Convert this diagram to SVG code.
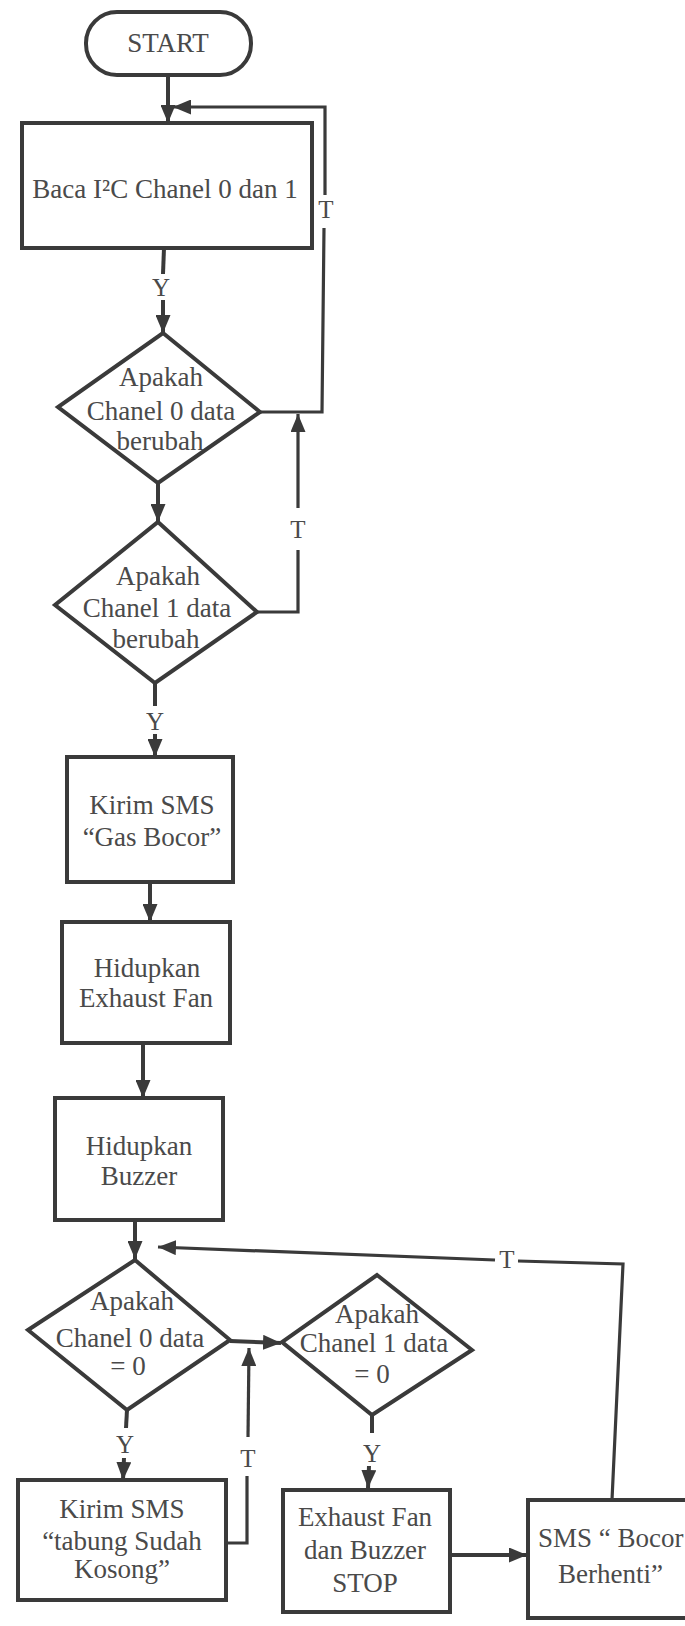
<svg xmlns="http://www.w3.org/2000/svg" width="685" height="1626" viewBox="0 0 685 1626">
<style>
.shape{fill:#fff;stroke:#3a3a3a;stroke-width:4;stroke-linejoin:miter}
.conn{fill:none;stroke:#3a3a3a;stroke-width:4}
.thin{fill:none;stroke:#3a3a3a;stroke-width:3.2}
text{font-family:"Liberation Serif","Times New Roman",serif;font-size:27px;fill:#4a4a4a;text-anchor:middle}
.lbl{font-size:25px}
</style>
<defs>
<marker id="ah" viewBox="0 0 18 15" refX="18" refY="7.5" markerWidth="18" markerHeight="15" orient="auto" markerUnits="userSpaceOnUse">
<path d="M0,0 L18,7.5 L0,15 z" fill="#3a3a3a"/>
</marker>
</defs>
<rect width="685" height="1626" fill="#fff"/>

<g id="connectors">
<line class="conn" x1="168" y1="75" x2="168" y2="123" marker-end="url(#ah)"/>
<polyline class="thin" points="260,412 322,412 324,228"/>
<polyline class="thin" points="325,195 325,107 173,107" marker-end="url(#ah)"/>
<text class="lbl" x="326" y="218">T</text>
<line class="conn" x1="164" y1="248" x2="163" y2="274"/>
<text class="lbl" x="161" y="296">Y</text>
<line class="conn" x1="163" y1="300" x2="163" y2="333" marker-end="url(#ah)"/>
<line class="conn" x1="158" y1="483" x2="158" y2="522" marker-end="url(#ah)"/>
<polyline class="thin" points="257,612 298,612 298,550"/>
<line class="thin" x1="298" y1="508" x2="298" y2="414" marker-end="url(#ah)"/>
<text class="lbl" x="298" y="538">T</text>
<line class="conn" x1="155" y1="683" x2="155" y2="706"/>
<text class="lbl" x="155" y="730">Y</text>
<line class="conn" x1="155" y1="734" x2="155" y2="757" marker-end="url(#ah)"/>
<line class="conn" x1="150" y1="882" x2="150" y2="922" marker-end="url(#ah)"/>
<line class="conn" x1="143" y1="1043" x2="143" y2="1098" marker-end="url(#ah)"/>
<line class="conn" x1="135" y1="1220" x2="135" y2="1259" marker-end="url(#ah)"/>
<polyline class="thin" points="612,1500 623,1264 518,1261"/>
<line class="thin" x1="495" y1="1260" x2="158" y2="1247" marker-end="url(#ah)"/>
<text class="lbl" x="507" y="1268">T</text>
<line class="conn" x1="230" y1="1341" x2="281" y2="1343" marker-end="url(#ah)"/>
<line class="conn" x1="127" y1="1410" x2="126" y2="1428"/>
<text class="lbl" x="125" y="1453">Y</text>
<line class="conn" x1="124" y1="1458" x2="123" y2="1480" marker-end="url(#ah)"/>
<polyline class="thin" points="226,1543 247,1543 247,1476"/>
<line class="thin" x1="248" y1="1437" x2="249" y2="1348" marker-end="url(#ah)"/>
<text class="lbl" x="248" y="1467">T</text>
<line class="conn" x1="372" y1="1415" x2="372" y2="1433"/>
<text class="lbl" x="372" y="1462">Y</text>
<line class="conn" x1="369" y1="1466" x2="368" y2="1488" marker-end="url(#ah)"/>
<line class="conn" x1="450" y1="1555" x2="527" y2="1555" marker-end="url(#ah)"/>
</g>

<g id="start">
<rect class="shape" x="86" y="12" width="165" height="63" rx="31" ry="31"/>
<text x="168" y="52">START</text>
</g>

<g id="baca">
<rect class="shape" x="22" y="123" width="290" height="125"/>
<text x="165" y="198">Baca I²C Chanel 0 dan 1</text>
</g>

<g id="cek0">
<polygon class="shape" points="163,333 260,412 158,483 58,407"/>
<text x="161" y="386">Apakah</text>
<text x="161" y="420">Chanel 0 data</text>
<text x="160" y="450">berubah</text>
</g>

<g id="cek1">
<polygon class="shape" points="158,522 257,612 155,683 55,605"/>
<text x="158" y="585">Apakah</text>
<text x="157" y="617">Chanel 1 data</text>
<text x="156" y="648">berubah</text>
</g>

<g id="sms-gas">
<rect class="shape" x="67" y="757" width="166" height="125"/>
<text x="152" y="814">Kirim SMS</text>
<text x="152" y="846">“Gas Bocor”</text>
</g>

<g id="fan-on">
<rect class="shape" x="62" y="922" width="168" height="121"/>
<text x="147" y="977">Hidupkan</text>
<text x="146" y="1007">Exhaust Fan</text>
</g>

<g id="buzzer-on">
<rect class="shape" x="55" y="1098" width="168" height="122"/>
<text x="139" y="1155">Hidupkan</text>
<text x="139" y="1185">Buzzer</text>
</g>

<g id="cek0-nol">
<polygon class="shape" points="135,1260 230,1340 127,1410 28,1330"/>
<text x="132" y="1310">Apakah</text>
<text x="130" y="1347">Chanel 0 data</text>
<text x="128" y="1375">= 0</text>
</g>

<g id="cek1-nol">
<polygon class="shape" points="377,1275 472,1350 372,1415 282,1342"/>
<text x="377" y="1323">Apakah</text>
<text x="374" y="1352">Chanel 1 data</text>
<text x="372" y="1383">= 0</text>
</g>

<g id="sms-kosong">
<rect class="shape" x="18" y="1480" width="208" height="120"/>
<text x="122" y="1518">Kirim SMS</text>
<text x="122" y="1550">“tabung Sudah</text>
<text x="122" y="1578">Kosong”</text>
</g>

<g id="stop">
<rect class="shape" x="283" y="1490" width="167" height="122"/>
<text x="365" y="1526">Exhaust Fan</text>
<text x="365" y="1559">dan Buzzer</text>
<text x="365" y="1592">STOP</text>
</g>

<g id="sms-berhenti">
<rect class="shape" x="528" y="1500" width="170" height="118"/>
<text x="538" y="1547" style="text-anchor:start">SMS “ Bocor</text>
<text x="558" y="1583" style="text-anchor:start">Berhenti”</text>
</g>
</svg>
